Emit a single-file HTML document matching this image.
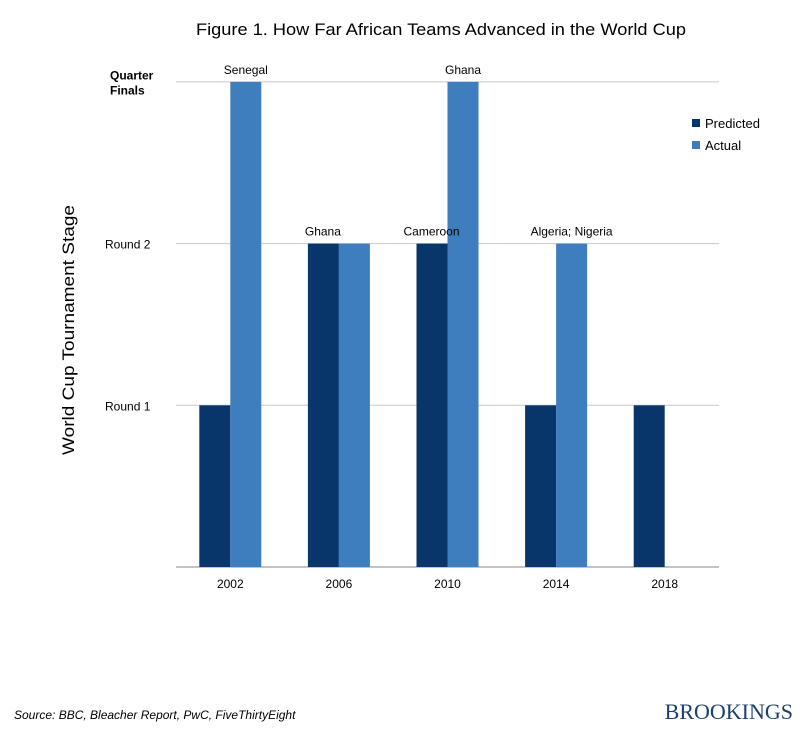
<!DOCTYPE html>
<html><head><meta charset="utf-8"><style>
body{margin:0;background:#fff;font-family:"Liberation Sans",sans-serif}
</style></head><body>
<svg id="c" width="806" height="742" xmlns="http://www.w3.org/2000/svg">
<text x="441" y="35" text-anchor="middle" font-size="17" textLength="490" lengthAdjust="spacingAndGlyphs" fill="#000">Figure 1. How Far African Teams Advanced in the World Cup</text>
<text transform="translate(74,330) rotate(-90)" text-anchor="middle" font-size="17" textLength="250" lengthAdjust="spacingAndGlyphs" fill="#000">World  Cup Tournament  Stage</text>
<g id="grid"></g><g id="bars"></g><g id="labels"></g>
<rect x="692" y="119" width="8" height="8" fill="#08366a"/>
<text x="705" y="128" font-size="13">Predicted</text>
<rect x="692" y="141" width="8" height="8" fill="#3f7ebe"/>
<text x="705" y="150" font-size="13">Actual</text>
<text x="14" y="719" font-size="12" font-style="italic">Source: BBC, Bleacher Report, PwC, FiveThirtyEight</text>
<text x="793" y="719" text-anchor="end" font-size="22" fill="#1d3f6e" font-family="Liberation Serif,serif">BROOKINGS</text>
</svg>
<script>
const categories=["2002","2006","2010","2014","2018"];
const predicted=[1,2,2,1,1];
const actual=[3,2,3,2,0];
const actualLabels=["Senegal","Ghana","Ghana","Algeria; Nigeria",""];
const predLabels=["","","Cameroon","",""];
const yTicks=[1,2,3];
const yTickLabels=["Round 1","Round 2","Quarter\nFinals"];
const NS="http://www.w3.org/2000/svg";
const x0=176,x1=719,base=567,unit=161.7,bw=31;
const y=v=>base-v*unit;
const gw=(x1-x0)/categories.length;
const cx=i=>x0+gw*(i+0.5);
function mk(t,a,p){const e=document.createElementNS(NS,t);for(const k in a)e.setAttribute(k,a[k]);p.appendChild(e);return e;}
const grid=document.getElementById('grid'),bars=document.getElementById('bars'),lab=document.getElementById('labels');
yTicks.forEach((t,i)=>{
 const l=mk('line',{x1:x0,x2:x1,y1:y(t),y2:y(t),stroke:'#c8c8c8','stroke-width':1},grid);
 
 
 const parts=yTickLabels[i].split('\n');
 parts.forEach((p,j)=>{
  const tx=mk('text',{x:parts.length>1?110:105,y:y(t)+5+(j-(parts.length-1)/2)*15,'font-size':12,'font-weight':parts.length>1?'bold':'normal'},grid);
  tx.textContent=p;
  
  
 });
});
const ax=mk('line',{x1:x0,x2:x1,y1:base,y2:base,stroke:'#888','stroke-width':1},grid);


categories.forEach((c,i)=>{
 const c0=cx(i);
 if(predicted[i]>0){const r=mk('rect',{x:c0-bw,y:y(predicted[i]),width:bw,height:predicted[i]*unit,fill:'#08366a'},bars);
  
  }
 if(actual[i]>0){const r=mk('rect',{x:c0,y:y(actual[i]),width:bw,height:actual[i]*unit,fill:'#3f7ebe'},bars);
  
  }
 const t=mk('text',{x:c0,y:base+21,'text-anchor':'middle','font-size':12},lab);t.textContent=c;
 
 
 if(actualLabels[i]){
  const ax2=(actual[i]===predicted[i])?c0-16:c0+bw/2;
  const a=mk('text',{x:ax2,y:y(actual[i])-8,'text-anchor':'middle','font-size':12},lab);a.textContent=actualLabels[i];
  
  }
 if(predLabels[i]){const a=mk('text',{x:c0-16,y:y(predicted[i])-8,'text-anchor':'middle','font-size':12},lab);a.textContent=predLabels[i];
  
  }
});
</script>
</body></html>
